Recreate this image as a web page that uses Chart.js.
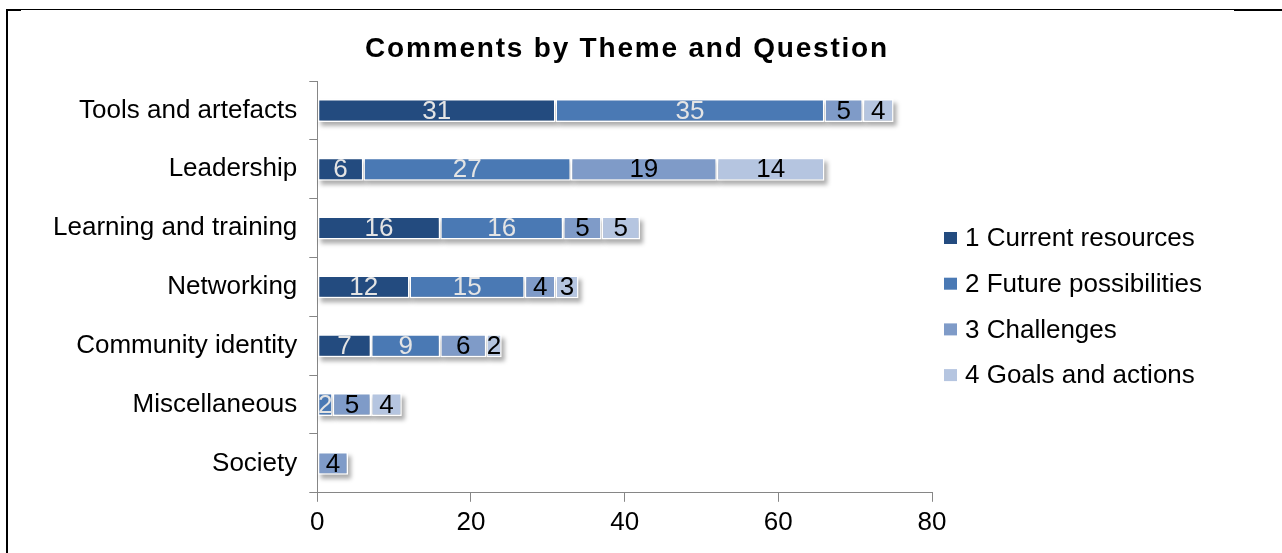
<!DOCTYPE html>
<html>
<head>
<meta charset="utf-8">
<script src="https://cdn.jsdelivr.net/npm/chart.js@4/dist/chart.umd.min.js"></script>
<style>
  html, body { margin: 0; padding: 0; background: #fff; }
  #wrap { width: 1282px; height: 553px; position: relative; }
</style>
</head>
<body>
<div id="wrap"><canvas id="chart"></canvas></div>
<script>
const chartTitle = 'Comments by Theme and Question';
const themes = ['Tools and artefacts', 'Leadership', 'Learning and training', 'Networking',
  'Community identity', 'Miscellaneous', 'Society'];
const currentResources = [31, 6, 16, 12, 7, 0, 0];
const futurePossibilities = [35, 27, 16, 15, 9, 2, 0];
const challenges = [5, 19, 5, 4, 6, 5, 4];
const goalsAndActions = [4, 14, 5, 3, 2, 4, 0];
const xTicks = [0, 20, 40, 60, 80];

const FONT = "'Liberation Sans', Arial, sans-serif";
const seriesColors = ['#234B7F', '#4A79B4', '#7F9BC8', '#B5C5E0'];
const labelColors = ['#E4E4E4', '#E4E4E4', '#000000', '#000000'];

Chart.defaults.font.family = FONT;
Chart.defaults.color = '#000';

// soft shadow under each segment, drawn before the bars
const barShadow = {
  id: 'barShadow',
  beforeDatasetsDraw(chart) {
    const ctx = chart.ctx;
    ctx.save();
    ctx.filter = 'blur(2px)';
    ctx.fillStyle = 'rgba(0,0,0,0.32)';
    chart.data.datasets.forEach((ds, i) => {
      chart.getDatasetMeta(i).data.forEach(bar => {
        const p = bar.getProps(['x', 'y', 'base', 'height'], true);
        const w = Math.abs(p.x - p.base);
        if (w < 0.5) return;
        ctx.fillRect(Math.min(p.x, p.base) + 3, p.y - p.height / 2 + 4, w, p.height);
      });
    });
    ctx.restore();
  }
};

// value labels in the middle of each segment
const segmentLabels = {
  id: 'segmentLabels',
  afterDatasetsDraw(chart) {
    const ctx = chart.ctx;
    ctx.save();
    ctx.font = '26px ' + FONT;
    ctx.textAlign = 'center';
    ctx.textBaseline = 'middle';
    chart.data.datasets.forEach((ds, i) => {
      ctx.fillStyle = labelColors[i];
      chart.getDatasetMeta(i).data.forEach((bar, j) => {
        const v = ds.data[j];
        if (!v) return;
        const p = bar.getProps(['x', 'y', 'base'], true);
        ctx.fillText(String(v), (p.x + p.base) / 2, p.y + 1);
      });
    });
    ctx.restore();
  }
};

// title, legend and the frame lines of the original picture
const decor = {
  id: 'decor',
  afterDraw(chart) {
    const ctx = chart.ctx;
    ctx.save();
    ctx.font = 'bold 28px ' + FONT;
    ctx.letterSpacing = '1.8px';
    ctx.fillStyle = '#000';
    ctx.textAlign = 'center';
    ctx.textBaseline = 'middle';
    ctx.fillText(chartTitle, 627, 49);
    ctx.letterSpacing = '0px';

    ctx.font = '26px ' + FONT;
    ctx.textAlign = 'left';
    chart.data.datasets.forEach((ds, i) => {
      const cy = 238 + i * 45.7;
      ctx.fillStyle = seriesColors[i];
      ctx.fillRect(944, cy - 6, 13, 12);
      ctx.fillStyle = '#000';
      ctx.fillText(ds.label, 965, cy + 1);
    });

    ctx.fillStyle = '#000';
    ctx.fillRect(6, 9, 2, 544);
    ctx.fillRect(6, 9, 1228, 1);
    ctx.fillRect(6, 9, 15, 2);
    ctx.fillRect(1234, 9, 48, 2);
    ctx.restore();
  }
};

new Chart(document.getElementById('chart'), {
  type: 'bar',
  data: {
    labels: themes,
    datasets: [
      { label: '1 Current resources', data: currentResources },
      { label: '2 Future possibilities', data: futurePossibilities },
      { label: '3 Challenges', data: challenges },
      { label: '4 Goals and actions', data: goalsAndActions }
    ].map((d, i) => ({
      ...d,
      backgroundColor: seriesColors[i],
      borderColor: '#ffffff',
      borderWidth: 1.5,
      borderSkipped: false,
      categoryPercentage: 1,
      barPercentage: 0.39
    }))
  },
  options: {
    indexAxis: 'y',
    responsive: true,
    maintainAspectRatio: false,
    animation: false,
    layout: { padding: { top: 81, bottom: 10, left: 41, right: 350 } },
    plugins: {
      title: { display: false },
      tooltip: { enabled: false },
      legend: { display: false }
    },
    scales: {
      x: {
        stacked: true,
        min: 0,
        max: 80,
        afterBuildTicks(scale) { scale.ticks = xTicks.map(v => ({ value: v })); },
        grid: { drawOnChartArea: false, color: '#868686', tickLength: 9 },
        border: { color: '#868686' },
        ticks: { padding: 5, color: '#000', font: { size: 26, family: FONT } }
      },
      y: {
        stacked: true,
        grid: { drawOnChartArea: false, color: '#868686', tickLength: 8 },
        border: { color: '#868686' },
        ticks: { padding: 12, color: '#000', font: { size: 26, family: FONT } }
      }
    }
  },
  plugins: [barShadow, segmentLabels, decor]
});
</script>
</body>
</html>
